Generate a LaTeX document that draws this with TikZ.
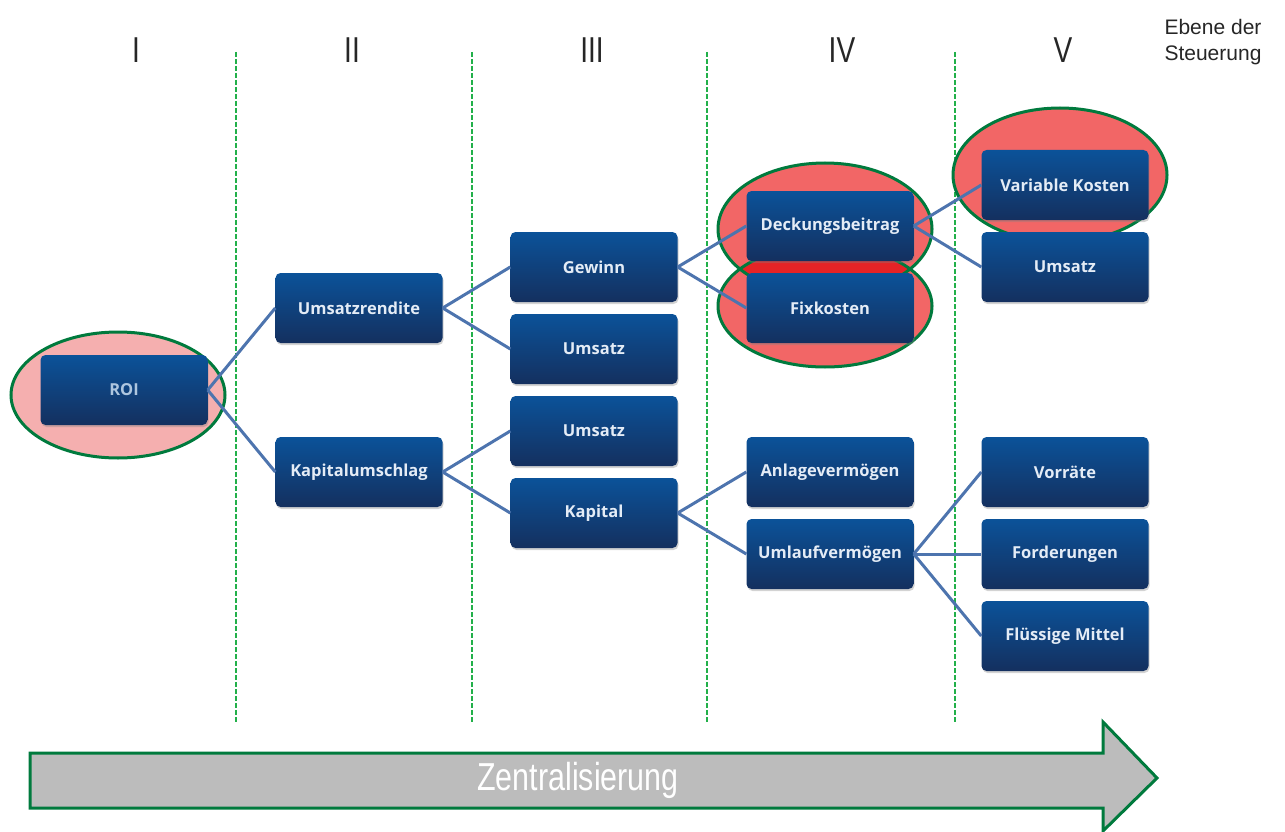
\documentclass[tikz,border=0pt]{standalone}
\usepackage{fontspec}
\setmainfont{Liberation Sans}
\newfontfamily\condfont[FakeStretch=0.78]{Liberation Sans}
\newfontfamily\boxfont{Open Sans}
\usetikzlibrary{shadows}
\definecolor{boxtop}{HTML}{0B5299}
\definecolor{boxbot}{HTML}{14305F}
\definecolor{boxtext}{HTML}{E4ECF6}
\definecolor{linkblue}{HTML}{4D74AE}
\definecolor{ringgreen}{HTML}{007A3D}
\definecolor{sepgreen}{HTML}{22B04A}
\definecolor{pinkfill}{HTML}{F5AFAF}
\definecolor{redfill}{HTML}{F26666}
\definecolor{overlapred}{HTML}{E52326}
\definecolor{arrowgray}{HTML}{BCBCBC}
\tikzset{
  kpi/.style={rounded corners=5pt, minimum width=167pt, minimum height=70pt,
    top color=boxtop, bottom color=boxbot, text=boxtext,
    font=\boxfont\bfseries\fontsize{16.5}{20}\selectfont,
    drop shadow={opacity=0.35, shadow xshift=1pt, shadow yshift=-2pt}},
  link/.style={draw=linkblue, line width=3pt},
  ring/.style={draw=ringgreen, line width=3pt},
  level/.style={font=\condfont\fontsize{36}{40}\selectfont, text=black!85},
  sep/.style={draw=sepgreen, line width=1.2pt, dash pattern=on 5pt off 2pt}
}
\begin{document}
\begin{tikzpicture}[x=1pt,y=-1pt]
\useasboundingbox (0,0) rectangle (1285,832);
% Ebenen
\foreach \xs in {236,472,707,955} \draw[sep] (\xs,52) -- (\xs,722);
\node[level] (lvI) at (136,50) {I};
\node[level] (lvII) at (352,50) {II};
\node[level] (lvIII) at (592,50) {III};
\node[level] (lvIV) at (842,50) {IV};
\node[level] (lvV) at (1063,50) {V};
\node[anchor=north west, align=left, font=\fontsize{21}{26}\selectfont, text=black!85] (ebene) at (1161,16) {Ebene der\\Steuerung};
% Markierungen
\fill[pinkfill] (118,395) ellipse [x radius=107pt, y radius=63pt];
\fill[redfill] (825,229) ellipse [x radius=107pt, y radius=66pt];
\fill[redfill] (825,306) ellipse [x radius=107pt, y radius=61pt];
\fill[redfill] (1060,175) ellipse [x radius=107pt, y radius=67pt];
\begin{scope}
\clip (825,229) ellipse [x radius=107pt, y radius=66pt];
\fill[overlapred] (825,306) ellipse [x radius=107pt, y radius=61pt];
\end{scope}
\draw[ring] (118,395) ellipse [x radius=107pt, y radius=63pt];
\draw[ring] (825,229) ellipse [x radius=107pt, y radius=66pt];
\draw[ring] (825,306) ellipse [x radius=107pt, y radius=61pt];
\draw[ring] (1060,175) ellipse [x radius=107pt, y radius=67pt];
% Kennzahlen
\node[kpi, text=boxtext!75!boxtop] (roi) at (124,390) {ROI};
\node[kpi] (umsrend) at (359,308) {Umsatzrendite};
\node[kpi] (kapum) at (359,472) {Kapitalumschlag};
\node[kpi] (gewinn) at (594,267) {Gewinn};
\node[kpi] (umsA) at (594,349) {Umsatz};
\node[kpi] (umsB) at (594,431) {Umsatz};
\node[kpi] (kapital) at (594,513) {Kapital};
\node[kpi] (db) at (830,226) {Deckungsbeitrag};
\node[kpi] (fix) at (830,308) {Fixkosten};
\node[kpi] (anlage) at (830,472) {Anlagevermögen};
\node[kpi] (umlauf) at (830,554) {Umlaufvermögen};
\node[kpi] (varko) at (1065,185) {Variable Kosten};
\node[kpi] (umsC) at (1065,267) {Umsatz};
\node[kpi] (vorr) at (1065,472) {Vorräte};
\node[kpi] (ford) at (1065,554) {Forderungen};
\node[kpi] (fluess) at (1065,636) {Flüssige Mittel};
% Verbindungen
\draw[link] (roi.east) -- (umsrend.west);
\draw[link] (roi.east) -- (kapum.west);
\draw[link] (umsrend.east) -- (gewinn.west);
\draw[link] (umsrend.east) -- (umsA.west);
\draw[link] (kapum.east) -- (umsB.west);
\draw[link] (kapum.east) -- (kapital.west);
\draw[link] (gewinn.east) -- (db.west);
\draw[link] (gewinn.east) -- (fix.west);
\draw[link] (kapital.east) -- (anlage.west);
\draw[link] (kapital.east) -- (umlauf.west);
\draw[link] (db.east) -- (varko.west);
\draw[link] (db.east) -- (umsC.west);
\draw[link] (umlauf.east) -- (vorr.west);
\draw[link] (umlauf.east) -- (ford.west);
\draw[link] (umlauf.east) -- (fluess.west);
% Pfeil
\draw[ring, fill=arrowgray] (30,753) -- (1103,753) -- (1103,722) -- (1157,778) -- (1103,831) -- (1103,808) -- (30,808) -- cycle;
\node[font=\condfont\fontsize{39}{44}\selectfont, text=white] (zentral) at (578,780) {Zentralisierung};
\end{tikzpicture}
\end{document}
